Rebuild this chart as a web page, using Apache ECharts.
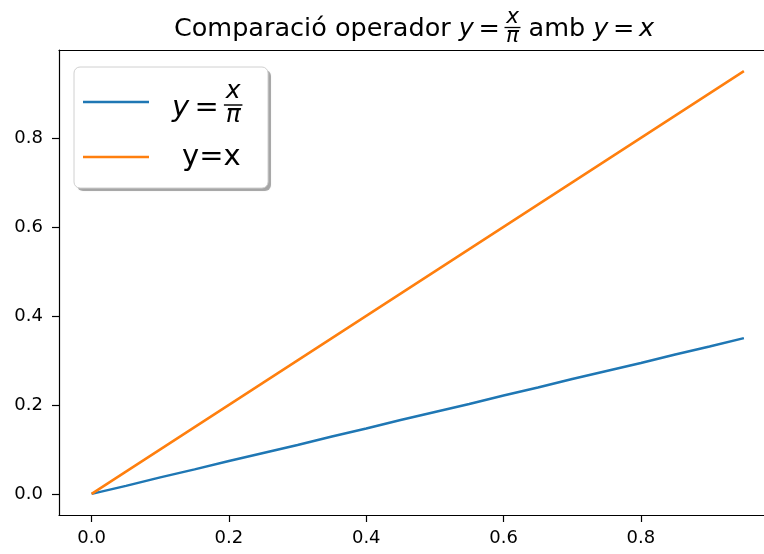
<!DOCTYPE html>
<html><head><meta charset="utf-8">
<script src="https://cdn.jsdelivr.net/npm/echarts@6/dist/echarts.min.js"></script>
<style>html,body{margin:0;padding:0;background:#fff;overflow:hidden;width:764px;height:554px}#c{width:800px;height:554px}</style>
</head><body><div id="c"></div>
<script>
const xValues = [0, 0.05, 0.1, 0.15, 0.2, 0.25, 0.3, 0.35, 0.4, 0.45, 0.5, 0.55, 0.6, 0.65, 0.7, 0.75, 0.8, 0.85, 0.9, 0.95];
const blueValues = [0, 0.018, 0.037, 0.055, 0.074, 0.092, 0.110, 0.129, 0.147, 0.166, 0.184, 0.202, 0.221, 0.239, 0.258, 0.276, 0.294, 0.313, 0.331, 0.350];
const orangeValues = [0, 0.05, 0.1, 0.15, 0.2, 0.25, 0.3, 0.35, 0.4, 0.45, 0.5, 0.55, 0.6, 0.65, 0.7, 0.75, 0.8, 0.85, 0.9, 0.95];
const xTicks = [0, 0.2, 0.4, 0.6, 0.8];
const yTicks = [0, 0.2, 0.4, 0.6, 0.8];
const seriesNames = ['y = x/π', 'y=x'];
const titleText = 'Comparació operador ';

const FONT = 'DejaVu Sans';
const cv = document.createElement('canvas').getContext('2d');
function mw(t, s, it) { cv.font = (it ? 'italic ' : '') + s + 'px "' + FONT + '"'; return cv.measureText(t).width; }
// base = approximate glyph baseline
function txt(t, x, base, s, it) {
  return {
    type: 'text', x: x, y: base + 0.2 * s, z: 200,
    style: { text: t, fontSize: s, fontFamily: FONT, fontStyle: it ? 'italic' : 'normal',
      fill: '#000', align: 'left', textAlign: 'left', verticalAlign: 'bottom', textVerticalAlign: 'bottom' }
  };
}
function fracWidth(S, fracS) {
  return mw('y', S, true) + 0.36 * S + mw('=', S, false) + Math.max(mw('x', fracS, true), mw('π', fracS, true)) + 0.12 * S;
}
// "y = x/π" as y = fraction
function mathFrac(x0, base, S, fracS, axisY, numBase, denBase) {
  const els = [];
  let x = x0;
  els.push(txt('y', x, base, S, true)); x += mw('y', S, true) + 0.18 * S;
  els.push(txt('=', x, base, S, false)); x += mw('=', S, false) + 0.18 * S;
  const wn = mw('x', fracS, true), wd = mw('π', fracS, true);
  const bw = Math.max(wn, wd) + 0.12 * S;
  const cx = x + bw / 2;
  els.push({ type: 'line', z: 200, shape: { x1: x, y1: axisY, x2: x + bw, y2: axisY }, style: { stroke: '#000', lineWidth: Math.max(1, S * 0.05) } });
  els.push(txt('x', cx - wn / 2, numBase, fracS, true));
  els.push(txt('π', cx - wd / 2, denBase, fracS, true));
  x += bw;
  return { els: els, width: x - x0 };
}

// Title layout
const T = 25.5;
const TF = 21.5;
const tBase = 37;
const titleEls = [];
(function () {
  const wA = mw(titleText, T, false);
  const wEqM = fracWidth(T, TF);
  const wAmb = mw(' amb ', T, false);
  const wTail = mw('y', T, true) + 0.36 * T + mw('=', T, false) + mw('x', T, true);
  const total = wA + wEqM + wAmb + wTail;
  let x = 414 - total / 2;
  titleEls.push(txt(titleText, x, tBase, T, false)); x += wA;
  const m = mathFrac(x, tBase, T, TF, 27.5, 24, 43.5);
  m.els.forEach(e => titleEls.push(e)); x += m.width;
  titleEls.push(txt(' amb ', x, tBase, T, false)); x += wAmb;
  titleEls.push(txt('y', x, tBase, T, true)); x += mw('y', T, true) + 0.18 * T;
  titleEls.push(txt('=', x, tBase, T, false)); x += mw('=', T, false) + 0.18 * T;
  titleEls.push(txt('x', x, tBase, T, true));
})();

// Legend layout
const L = 29;
const legendEls = [
  { type: 'rect', z: 190, shape: { x: 77, y: 70, width: 194, height: 121, r: 6 }, style: { fill: 'rgba(0,0,0,0.3)', shadowBlur: 2, shadowColor: 'rgba(0,0,0,0.25)' } },
  { type: 'rect', z: 191, shape: { x: 74, y: 67, width: 194, height: 121, r: 6 }, style: { fill: '#ffffff', stroke: '#d0d0d0', lineWidth: 1 } },
  { type: 'line', z: 200, shape: { x1: 83, y1: 102, x2: 149, y2: 102 }, style: { stroke: '#1f77b4', lineWidth: 2.5 } },
  { type: 'line', z: 200, shape: { x1: 83, y1: 157, x2: 149, y2: 157 }, style: { stroke: '#ff7f0e', lineWidth: 2.5 } }
];
(function () {
  const m = mathFrac(172, 117, L, 25, 105, 99, 123);
  m.els.forEach(e => legendEls.push(e));
  legendEls.push(txt(seriesNames[1], 182, 166, L, false));
})();

const chart = echarts.init(document.getElementById('c'), null, { renderer: 'canvas' });
function axis(ticks, margin) {
  return {
    type: 'value', min: -0.0475, max: 0.9975,
    axisLine: { show: true, onZero: false, lineStyle: { color: '#000', width: 1.2 } },
    splitLine: { show: false },
    axisTick: { show: true, inside: false, customValues: ticks, length: 7, lineStyle: { color: '#000', width: 1.2 } },
    axisLabel: { customValues: ticks, formatter: v => v.toFixed(1), fontFamily: FONT, fontSize: 18, color: '#000', margin: margin }
  };
}
const topSpine = {
  type: 'value', position: 'top', min: -0.0475, max: 0.9975,
  axisLine: { show: true, onZero: false, lineStyle: { color: '#000', width: 1.2 } },
  axisTick: { show: false }, axisLabel: { show: false }, splitLine: { show: false }
};
chart.setOption({
  animation: false,
  backgroundColor: '#fff',
  grid: { left: 59, top: 50, width: 717.5, height: 465, outerBoundsMode: 'none', containLabel: false, show: false },
  xAxis: [axis(xTicks, 14), topSpine],
  yAxis: axis(yTicks, 16),
  series: [
    { name: seriesNames[0], type: 'line', data: xValues.map((x, i) => [x, blueValues[i]]), showSymbol: false, lineStyle: { color: '#1f77b4', width: 2.5 }, itemStyle: { color: '#1f77b4' } },
    { name: seriesNames[1], type: 'line', data: xValues.map((x, i) => [x, orangeValues[i]]), showSymbol: false, lineStyle: { color: '#ff7f0e', width: 2.5 }, itemStyle: { color: '#ff7f0e' } }
  ],
  graphic: titleEls.concat(legendEls)
});
</script>
</body></html>
